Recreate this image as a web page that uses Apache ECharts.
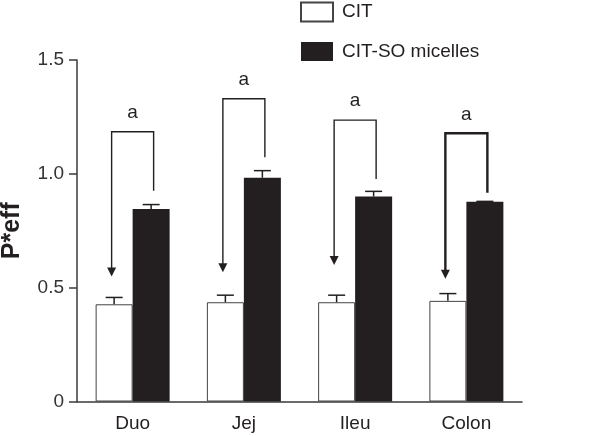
<!DOCTYPE html>
<html><head><meta charset="utf-8">
<script src="https://cdn.jsdelivr.net/npm/echarts@6/dist/echarts.min.js"></script>
<style>html,body{margin:0;padding:0;background:#fff}#c{width:600px;height:436px}</style>
</head><body><div id="c"></div>
<script>
const categories = ['Duo', 'Jej', 'Ileu', 'Colon'];
const seriesNames = ['CIT', 'CIT-SO micelles'];
const citMean = [0.427, 0.436, 0.436, 0.442];
const citErr = [0.030, 0.031, 0.031, 0.032];
const micMean = [0.846, 0.983, 0.900, 0.877];
const micErr = [0.019, 0.031, 0.023, 0.002];
const bracketTop = [1.185, 1.330, 1.236, 1.178];
const bracketRightEnd = [0.926, 1.073, 0.977, 0.917];
const arrowTip = [0.549, 0.568, 0.600, 0.539];
const sigLabels = ['a', 'a', 'a', 'a'];
const yMin = 0, yMax = 1.5, yStep = 0.5;

const FONT = '"Liberation Sans", Arial, Helvetica, sans-serif';
const INK = '#231f20';
const BAR_W = 37;

function errRender(dx) {
  return function (params, api) {
    const i = api.value(0);
    const p0 = api.coord([i, api.value(1)]);
    const p1 = api.coord([i, api.value(2)]);
    const x = p0[0] + dx;
    return {
      type: 'group',
      children: [
        { type: 'line', shape: { x1: x, y1: p0[1], x2: x, y2: p1[1] }, style: { stroke: INK, lineWidth: 1.5 } },
        { type: 'line', shape: { x1: x - 8.5, y1: p1[1], x2: x + 8.5, y2: p1[1] }, style: { stroke: INK, lineWidth: 1.5 } }
      ]
    };
  };
}

function bracketRender(params, api) {
  const i = api.value(0);
  const cx = api.coord([i, 0])[0];
  const xL = cx - 21, xR = cx + 21;
  const yTop = api.coord([i, api.value(1)])[1];
  const yRE = api.coord([i, api.value(2)])[1];
  const yTip = api.coord([i, api.value(3)])[1];
  const lw = i === 3 ? 2.4 : 1.4;
  return {
    type: 'group',
    children: [
      { type: 'polyline', shape: { points: [[xL, yTip - 7], [xL, yTop], [xR, yTop], [xR, yRE]] },
        style: { stroke: INK, lineWidth: lw, fill: null } },
      { type: 'polygon', shape: { points: [[xL - 4.5, yTip - 9], [xL + 4.5, yTip - 9], [xL, yTip]] },
        style: { fill: INK } },
      { type: 'text', x: cx, y: yTop - 19,
        style: { text: sigLabels[i], fill: INK, font: '19px ' + FONT, align: 'center', verticalAlign: 'middle' } }
    ]
  };
}

const chart = echarts.init(document.getElementById('c'), null, { renderer: 'canvas' });
chart.setOption({
  animation: false,
  backgroundColor: '#fff',
  textStyle: { fontFamily: FONT },
  grid: { left: 77, right: 78, top: 60, bottom: 34.5, containLabel: false, outerBoundsMode: 'none' },
  legend: {
    data: seriesNames,
    orient: 'vertical',
    left: 300, top: 1.5, padding: 0,
    itemWidth: 32, itemHeight: 19, itemGap: 19.5,
    icon: 'rect',
    textStyle: { fontSize: 19, color: INK, fontFamily: FONT, padding: [0, 0, 0, 4] }
  },
  xAxis: {
    type: 'category',
    data: categories,
    axisLine: { show: true, lineStyle: { color: '#3a3a3a', width: 1.5 } },
    axisTick: { show: false },
    axisLabel: { fontSize: 19, color: INK, margin: 13, fontFamily: FONT },
    splitLine: { show: false }
  },
  yAxis: {
    type: 'value',
    min: yMin, max: yMax, interval: yStep,
    name: 'P*eff',
    nameLocation: 'middle',
    nameGap: 52,
    nameTextStyle: { fontSize: 25, fontWeight: 'bold', color: INK, fontFamily: FONT },
    axisLine: { show: true, lineStyle: { color: '#3a3a3a', width: 1.5 } },
    axisTick: { show: true, length: 8, lineStyle: { color: '#3a3a3a', width: 1.5 } },
    axisLabel: { fontSize: 19, color: '#333', margin: 13, fontFamily: FONT,
      formatter: v => (v === 0 ? '0' : v.toFixed(1)) },
    splitLine: { show: false }
  },
  series: [
    { name: seriesNames[0], type: 'bar', data: citMean, barWidth: BAR_W, barGap: '0%',
      itemStyle: { color: '#ffffff', borderColor: '#444', borderWidth: 1 }, z: 2 },
    { name: seriesNames[1], type: 'bar', data: micMean, barWidth: BAR_W, barGap: '0%',
      itemStyle: { color: INK, borderColor: INK, borderWidth: 0 }, z: 2 },
    { type: 'custom', renderItem: errRender(-BAR_W / 2), z: 3,
      data: citMean.map((m, i) => [i, m, m + citErr[i]]), encode: { x: 0, y: [1, 2] }, silent: true },
    { type: 'custom', renderItem: errRender(BAR_W / 2), z: 3,
      data: micMean.map((m, i) => [i, m, m + micErr[i]]), encode: { x: 0, y: [1, 2] }, silent: true },
    { type: 'custom', renderItem: bracketRender, z: 4,
      data: categories.map((c, i) => [i, bracketTop[i], bracketRightEnd[i], arrowTip[i]]),
      encode: { x: 0, y: [1, 2, 3] }, silent: true }
  ]
});
</script>
</body></html>
